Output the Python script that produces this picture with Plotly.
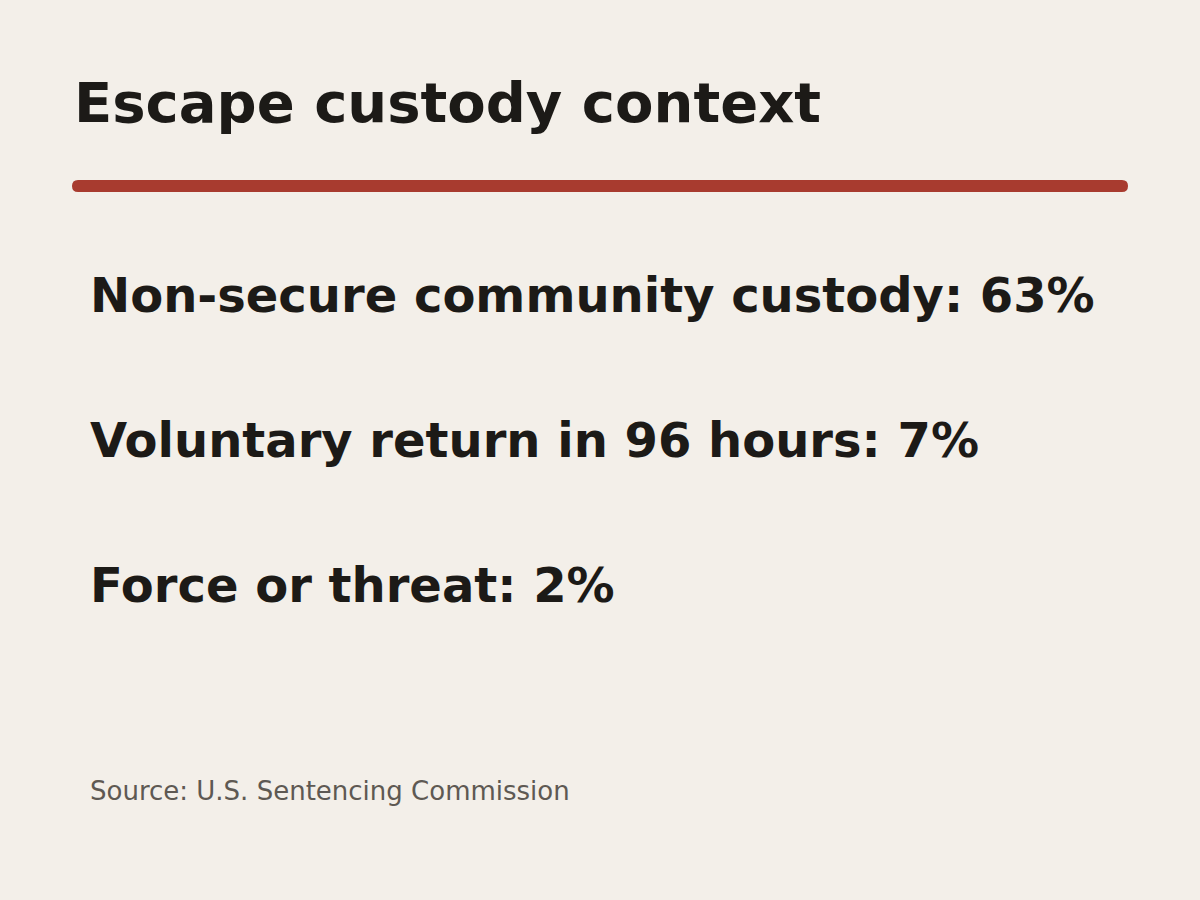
import plotly.graph_objects as go

title = "Escape custody context"
labels = ["Non-secure community custody", "Voluntary return in 96 hours", "Force or threat"]
values = [63, 7, 2]
source = "Source: U.S. Sentencing Commission"

bg = "#f3efe9"
ink = "#1c1a17"
red = "#a83b2f"

fig = go.Figure()
fig.update_xaxes(range=[0, 1200], visible=False, fixedrange=True)
fig.update_yaxes(range=[900, 0], visible=False, fixedrange=True)

fig.add_annotation(x=72, y=102, text="<b>" + title + "</b>", showarrow=False,
                   xanchor="left", yanchor="middle",
                   font=dict(family="DejaVu Sans", size=56, color=ink))

# red rule with rounded ends
fig.add_shape(type="path", path="M 78 180 L 1122 180 Q 1128 180 1128 186 Q 1128 192 1122 192 L 78 192 Q 72 192 72 186 Q 72 180 78 180 Z",
              fillcolor=red, line=dict(width=0))

for i, (lab, val) in enumerate(zip(labels, values)):
    fig.add_annotation(x=88, y=295 + i * 145, text=f"<b>{lab}: {val}%</b>", showarrow=False,
                       xanchor="left", yanchor="middle",
                       font=dict(family="DejaVu Sans", size=48, color=ink))

fig.add_annotation(x=88, y=791, text=source, showarrow=False,
                   xanchor="left", yanchor="middle",
                   font=dict(family="DejaVu Sans", size=26, color="#5e5953"))

fig.update_layout(width=1200, height=900, margin=dict(l=0, r=0, t=0, b=0),
                  paper_bgcolor=bg, plot_bgcolor=bg, showlegend=False)
fig.write_html("out.html", config={"displayModeBar": False},
               post_script="document.body.style.margin='0';document.body.style.background='%s';" % bg)
